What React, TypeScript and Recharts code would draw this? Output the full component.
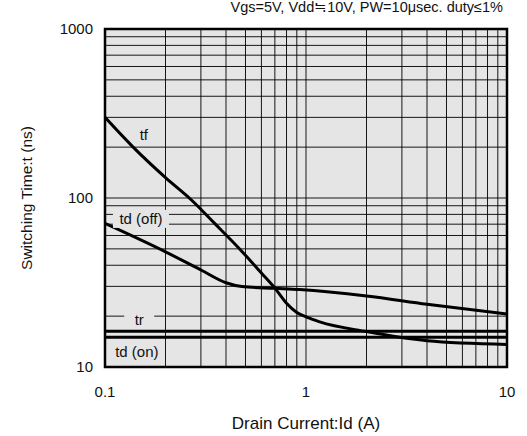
import { LineChart, Line, XAxis, YAxis, CartesianGrid, ReferenceArea, ReferenceDot } from "recharts"

const xTicks = [0.1, 0.2, 0.3, 0.4, 0.5, 0.6, 0.7, 0.8, 0.9, 1, 2, 3, 4, 5, 6, 7, 8, 9, 10]
const yTicks = [10, 20, 30, 40, 50, 60, 70, 80, 90, 100, 200, 300, 400, 500, 600, 700, 800, 900, 1000]
const xLabels = [0.1, 1, 10]
const yLabels = [10, 100, 1000]

const tf = [
  { x: 0.1, y: 300 },
  { x: 0.138, y: 200 },
  { x: 0.2, y: 132 },
  { x: 0.27, y: 97 },
  { x: 0.35, y: 71 },
  { x: 0.46, y: 51 },
  { x: 0.6, y: 36 },
  { x: 0.7, y: 29.3 },
  { x: 0.8, y: 23.8 },
  { x: 0.9, y: 21 },
  { x: 1.0, y: 19.8 },
  { x: 1.17, y: 18.5 },
  { x: 2, y: 16.2 },
  { x: 4, y: 14.3 },
  { x: 10, y: 13.6 }
]

const tdOff = [
  { x: 0.1, y: 70.7 },
  { x: 0.2, y: 48 },
  { x: 0.3, y: 37.5 },
  { x: 0.4, y: 31.5 },
  { x: 0.48, y: 29.9 },
  { x: 0.7, y: 29.2 },
  { x: 0.93, y: 28.7 },
  { x: 2, y: 26.3 },
  { x: 4, y: 23.5 },
  { x: 10, y: 20.6 }
]

const tr = [
  { x: 0.1, y: 16.3 },
  { x: 10, y: 16.3 }
]

const tdOn = [
  { x: 0.1, y: 15 },
  { x: 10, y: 15 }
]

const font = "'Liberation Sans', Arial, Helvetica, sans-serif"
const bg = "#e5e5e5"

function labelShape(text: string, w: number, h: number) {
  return (props: any) => {
    const { cx, cy } = props
    return (
      <g>
        <rect x={cx - w / 2} y={cy - h / 2} width={w} height={h} fill={bg} />
        <text x={cx} y={cy} textAnchor="middle" dominantBaseline="central" fontSize={15} fontFamily={font} fill="#111">
          {text}
        </text>
      </g>
    )
  }
}

export default function App() {
  return (
    <div style={{ position: "absolute", left: 0, top: 0, width: 527, height: 436, background: "#fff", fontFamily: font }}>

      <div style={{ position: "absolute", right: 24, top: -1, fontSize: 14.5, color: "#111", whiteSpace: "nowrap" }}>
        Vgs=5V, Vdd≒10V, PW=10μsec. duty≤1%
      </div>

      <LineChart width={527} height={436} margin={{ top: 29, right: 20, bottom: 34, left: 45 }}>

        <CartesianGrid fill={bg} stroke="#000" strokeWidth={1} strokeOpacity={0.9} />

        <XAxis
          type="number"
          dataKey="x"
          scale="log"
          domain={[0.1, 10]}
          ticks={xTicks}
          allowDataOverflow
          interval={0}
          axisLine={false}
          tickLine={false}
          tickSize={0}
          tickMargin={19}
          height={35}
          tick={{ fontSize: 15, fill: "#111", fontFamily: font }}
          tickFormatter={(v: number) => (xLabels.includes(v) ? String(v) : "")}
          label={{ value: "Drain Current:Id (A)", position: "insideBottom", offset: -27, fontSize: 17, fill: "#111", fontFamily: font }}
        />

        <YAxis
          type="number"
          scale="log"
          domain={[10, 1000]}
          ticks={yTicks}
          allowDataOverflow
          interval={0}
          axisLine={false}
          tickLine={false}
          tickSize={0}
          tickMargin={12}
          width={60}
          tick={{ fontSize: 15, fill: "#111", fontFamily: font }}
          tickFormatter={(v: number) => (yLabels.includes(v) ? String(v) : "")}
          label={{ value: "Switching Time:t (ns)", angle: -90, position: "insideLeft", offset: -19, fontSize: 15.5, fill: "#111", fontFamily: font, style: { textAnchor: "middle" } }}
        />

        <Line data={tf} dataKey="y" type="monotone" stroke="#000" strokeWidth={3} dot={false} isAnimationActive={false} />
        <Line data={tdOff} dataKey="y" type="monotone" stroke="#000" strokeWidth={3} dot={false} isAnimationActive={false} />
        <Line data={tr} dataKey="y" type="linear" stroke="#000" strokeWidth={3} dot={false} isAnimationActive={false} />
        <Line data={tdOn} dataKey="y" type="linear" stroke="#000" strokeWidth={3} dot={false} isAnimationActive={false} />

        <ReferenceDot x={0.156} y={239} r={0} shape={labelShape("tf", 14, 14)} />
        <ReferenceDot x={0.151} y={75.2} r={0} shape={labelShape("td (off)", 56, 18)} />
        <ReferenceDot x={0.148} y={19.2} r={0} shape={labelShape("tr", 30, 12)} />
        <ReferenceDot x={0.144} y={12.3} r={0} shape={labelShape("td (on)", 50, 16)} />

        <ReferenceArea x1={0.1} x2={10} y1={10} y2={1000} fill="none" stroke="#000" strokeWidth={2.5} ifOverflow="visible" />

      </LineChart>
    </div>
  )
}
